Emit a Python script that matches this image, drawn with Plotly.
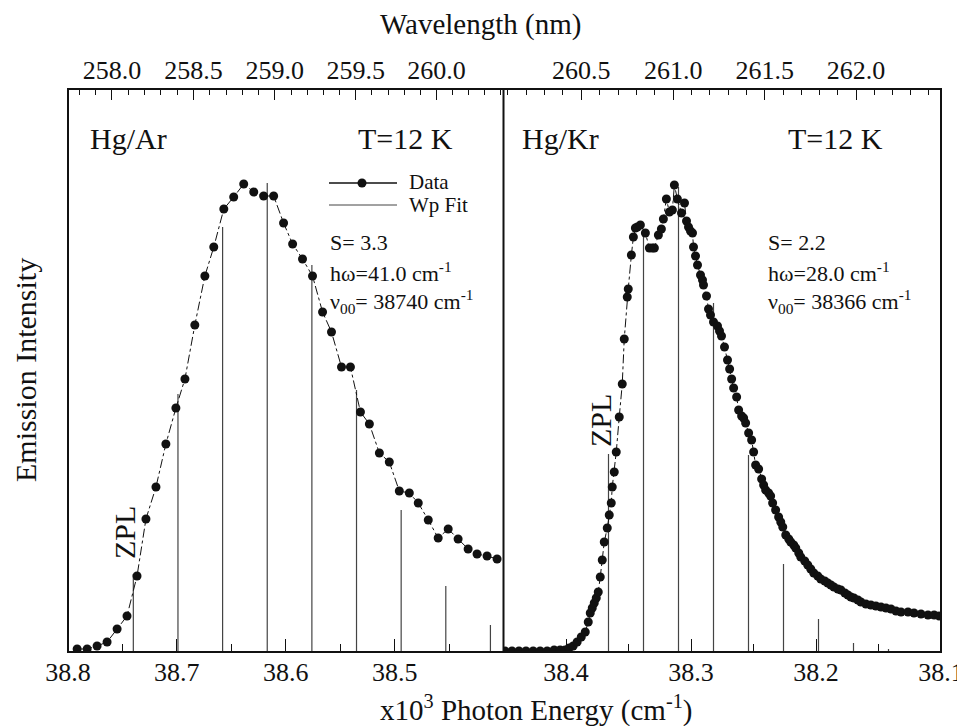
import plotly.graph_objects as go

# ---------------- data ----------------
# Hg/Ar emission (x10^3 cm^-1, arbitrary intensity)
left_energy = [38.7916, 38.7824, 38.7733, 38.7641, 38.7549, 38.7458, 38.7366, 38.7284,
               38.7192, 38.7101, 38.7009, 38.6926, 38.6835, 38.6743, 38.6661, 38.6569,
               38.6478, 38.6386, 38.6294, 38.6203, 38.6111, 38.6020, 38.5937, 38.5846,
               38.5754, 38.5662, 38.5580, 38.5488, 38.5406, 38.5314, 38.5232, 38.5140,
               38.5049, 38.4957, 38.4865, 38.4783, 38.4691, 38.4600, 38.4508, 38.4417,
               38.4325, 38.4243, 38.4151, 38.4059]
left_intensity = [3, 3, 6, 10, 23, 36, 76, 133, 165, 208, 244, 273, 327, 376, 405, 443,
                  455, 468, 460, 456, 456, 429, 408, 393, 376, 340, 320, 285, 285, 240,
                  228, 199, 190, 161, 159, 149, 132, 114, 123, 113, 103, 98, 96, 93]

# Hg/Kr emission
right_energy = [38.4488, 38.4432, 38.4376, 38.4320, 38.4263, 38.4207, 38.4151, 38.4095,
                38.4047, 38.4007, 38.3975, 38.3943, 38.3911, 38.3878, 38.3846, 38.3822,
                38.3806, 38.3790, 38.3774, 38.3758, 38.3742, 38.3726, 38.3710, 38.3694,
                38.3670, 38.3654, 38.3638, 38.3630, 38.3614, 38.3598, 38.3574, 38.3550,
                38.3534, 38.3510, 38.3502, 38.3477, 38.3461, 38.3445, 38.3429, 38.3405,
                38.3365, 38.3333, 38.3309, 38.3293, 38.3261, 38.3237, 38.3221, 38.3197,
                38.3173, 38.3149, 38.3133, 38.3109, 38.3076, 38.3052, 38.3036, 38.3020,
                38.3004, 38.2988, 38.2980, 38.2964, 38.2948, 38.2924, 38.2908, 38.2900,
                38.2876, 38.2860, 38.2844, 38.2820, 38.2788, 38.2772, 38.2756, 38.2732,
                38.2708, 38.2691, 38.2675, 38.2659, 38.2635, 38.2619, 38.2595, 38.2579,
                38.2563, 38.2539, 38.2515, 38.2499, 38.2483, 38.2459, 38.2435, 38.2419,
                38.2403, 38.2379, 38.2363, 38.2347, 38.2323, 38.2299, 38.2282, 38.2266,
                38.2242, 38.2218, 38.2202, 38.2178, 38.2162, 38.2138, 38.2122, 38.2090,
                38.2066, 38.2042, 38.2018, 38.1986, 38.1962, 38.1930, 38.1906, 38.1881,
                38.1857, 38.1825, 38.1801, 38.1769, 38.1745, 38.1721, 38.1697, 38.1665,
                38.1641, 38.1601, 38.1561, 38.1521, 38.1480, 38.1440, 38.1400, 38.1360,
                38.1320, 38.1264, 38.1216, 38.1160, 38.1104, 38.1055, 38.1015]
right_intensity = [1, 1, 1, 1, 1, 1, 1, 2, 2, 2, 4, 6, 10, 15, 20, 30,
                   39, 44, 49, 54, 60, 75, 92, 110, 124, 137, 149, 165, 180, 200, 235, 268,
                   313, 355, 363, 397, 415, 424, 425, 427, 419, 404, 404, 404, 417, 423,
                   433, 453, 440, 442, 467, 453, 439, 449, 431, 425, 421, 419, 405, 396,
                   387, 377, 372, 367, 356, 343, 337, 330, 326, 321, 316, 305, 292, 283,
                   273, 264, 255, 242, 236, 234, 229, 219, 212, 200, 187, 183, 173, 167,
                   162, 159, 156, 149, 142, 135, 130, 125, 117, 113, 110, 107, 104, 99,
                   95, 91, 87, 83, 79, 76, 73, 71, 69, 67, 65, 63, 62, 59, 57, 55, 54,
                   52, 50, 48, 47, 46, 45, 44, 43, 41, 40, 40, 39, 38, 37, 37, 36]

# Wp fit stick spectra
left_fit_energy = [38.740, 38.699, 38.658, 38.617, 38.576, 38.535, 38.494, 38.453, 38.412]
left_fit_height = [78, 258, 425, 469, 387, 262, 142, 66, 27]
right_fit_energy = [38.366, 38.338, 38.310, 38.282, 38.254, 38.226, 38.198, 38.170, 38.142]
right_fit_height = [198, 417, 465, 349, 197, 88, 33, 9, 3]

# tick labels
left_energy_ticks = [38.8, 38.7, 38.6, 38.5]
left_energy_minor = [38.75, 38.65, 38.55, 38.45]
right_energy_ticks = [38.4, 38.3, 38.2, 38.1]
right_energy_minor = [38.35, 38.25, 38.15]
left_wl_ticks = [258.0, 258.5, 259.0, 259.5, 260.0]
right_wl_ticks = [260.5, 261.0, 261.5, 262.0]
left_wl_minor = [round(257.8 + 0.1 * i, 1) for i in range(27)]
right_wl_minor = [round(260.1 + 0.1 * i, 1) for i in range(24)]

# ---------------- layout helpers ----------------
# target plot-area box in screen pixels (page body has an 8 px margin)
OFF = 8
W, H = 965 - OFF, 726 - OFF
L, R, T, B = 68, 941, 89, 652
SPLIT = 503.5
FONT = "Liberation Serif, Times New Roman, serif"
INK = "#111111"


def px_x(px):
    return (px - L) / (R - L)


def px_y(py):
    return (B - py) / (B - T)


def nm_to_k(wl):
    # wavelength (nm) -> photon energy in 10^3 cm^-1
    return 1e4 / wl


def sticks(energies, heights):
    xs, ys = [], []
    for e, h in zip(energies, heights):
        xs += [e, e, None]
        ys += [0, h, None]
    return xs, ys


fig = go.Figure()

data_style = dict(mode="lines+markers",
                  line=dict(color=INK, width=1, dash="dashdot"),
                  marker=dict(color=INK, size=9), showlegend=False)
stick_style = dict(mode="lines", line=dict(color="#444444", width=1.2), showlegend=False)

sx, sy = sticks(left_fit_energy, left_fit_height)
fig.add_trace(go.Scatter(x=sx, y=sy, xaxis="x", yaxis="y", **stick_style))
fig.add_trace(go.Scatter(x=left_energy, y=left_intensity, xaxis="x", yaxis="y", **data_style))

sx, sy = sticks(right_fit_energy, right_fit_height)
fig.add_trace(go.Scatter(x=sx, y=sy, xaxis="x2", yaxis="y", **stick_style))
fig.add_trace(go.Scatter(x=right_energy, y=right_intensity, xaxis="x2", yaxis="y", **data_style))

# empty traces so that the top (wavelength) axes exist
fig.add_trace(go.Scatter(x=[None], y=[None], xaxis="x3", yaxis="y", showlegend=False))
fig.add_trace(go.Scatter(x=[None], y=[None], xaxis="x4", yaxis="y", showlegend=False))

split = px_x(SPLIT)
tickfont = dict(family=FONT, size=26, color=INK)
common = dict(showgrid=False, zeroline=False, showline=False, ticks="inside",
              tickcolor=INK, tickwidth=1.3, tickfont=tickfont, tickmode="array",
              automargin=False, ticklabeloverflow="allow")

fig.update_layout(
    width=W, height=H,
    margin=dict(l=L - OFF, r=(W + OFF) - R, t=T - OFF, b=(H + OFF) - B, autoexpand=False),
    paper_bgcolor="white", plot_bgcolor="white",
    xaxis=dict(domain=[0, split], range=[38.8, 38.4], anchor="y",
               tickvals=left_energy_ticks, ticktext=[f"{v:.1f}" for v in left_energy_ticks],
               ticklen=13, ticklabelstandoff=2,
               minor=dict(tickmode="array", tickvals=left_energy_minor, ticks="inside",
                          ticklen=8, tickcolor=INK, tickwidth=1.2),
               **common),
    xaxis2=dict(domain=[split, 1], range=[38.45, 38.1], anchor="y",
                tickvals=right_energy_ticks, ticktext=[f"{v:.1f}" for v in right_energy_ticks],
                ticklen=13, ticklabelstandoff=2,
                minor=dict(tickmode="array", tickvals=right_energy_minor, ticks="inside",
                           ticklen=8, tickcolor=INK, tickwidth=1.2),
                **common),
    xaxis3=dict(overlaying="x", side="top", anchor="y", range=[38.8, 38.4],
                tickvals=[nm_to_k(w) for w in left_wl_ticks],
                ticktext=[f"{w:.1f}" for w in left_wl_ticks],
                ticklen=11, ticklabelstandoff=4,
                minor=dict(tickmode="array", tickvals=[nm_to_k(w) for w in left_wl_minor],
                           ticks="inside", ticklen=6, tickcolor=INK, tickwidth=1.2),
                **common),
    xaxis4=dict(overlaying="x2", side="top", anchor="y", range=[38.45, 38.1],
                tickvals=[nm_to_k(w) for w in right_wl_ticks],
                ticktext=[f"{w:.1f}" for w in right_wl_ticks],
                ticklen=11, ticklabelstandoff=4,
                minor=dict(tickmode="array", tickvals=[nm_to_k(w) for w in right_wl_minor],
                           ticks="inside", ticklen=6, tickcolor=INK, tickwidth=1.2),
                **common),
    yaxis=dict(range=[0, B - T], showticklabels=False, ticks="", showgrid=False,
               zeroline=False, showline=False, automargin=False),
)

# frame and divider
fig.add_shape(type="rect", xref="paper", yref="paper", x0=0, x1=1, y0=0, y1=1,
              line=dict(color=INK, width=2), layer="above")
fig.add_shape(type="line", xref="paper", yref="paper", x0=split, x1=split, y0=0, y1=1,
              line=dict(color=INK, width=2), layer="above")

# legend (drawn)
fig.add_shape(type="line", xref="paper", yref="paper", x0=px_x(329), x1=px_x(397),
              y0=px_y(183), y1=px_y(183), line=dict(color=INK, width=1.3))
fig.add_shape(type="circle", xref="paper", yref="paper", x0=px_x(357.5), x1=px_x(366.5),
              y0=px_y(187.5), y1=px_y(178.5), fillcolor=INK, line=dict(color=INK, width=0))
fig.add_shape(type="line", xref="paper", yref="paper", x0=px_x(329), x1=px_x(397),
              y0=px_y(205), y1=px_y(205), line=dict(color="#444444", width=1))


def note(text, px, py, size, anchor="center", angle=0):
    fig.add_annotation(text=text, x=px_x(px), y=px_y(py), xref="paper", yref="paper",
                       xanchor=anchor, yanchor="middle", showarrow=False, textangle=angle,
                       font=dict(family=FONT, size=size, color=INK))


note("Wavelength (nm)", 480, 24, 29)
note("x10<sup>3</sup> Photon Energy (cm<sup>-1</sup>)", 536, 708, 29)
note("Emission Intensity", 25, 370, 30, angle=-90)

note("Hg/Ar", 128, 138, 30)
note("T=12 K", 405, 138, 30)
note("Hg/Kr", 560, 138, 30)
note("T=12 K", 835, 138, 30)

note("ZPL", 124, 533, 30, angle=-90)
note("ZPL", 600, 421, 30, angle=-90)

note("Data", 407, 182, 21, anchor="left")
note("Wp Fit", 407, 205, 21, anchor="left")

note("S= 3.3", 328, 243, 22, anchor="left")
note("hω=41.0 cm<sup>-1</sup>", 328, 272, 22, anchor="left")
note("ν<sub>00</sub>= 38740 cm<sup>-1</sup>", 328, 301, 22, anchor="left")

note("S= 2.2", 766, 243, 22, anchor="left")
note("hω=28.0 cm<sup>-1</sup>", 766, 272, 22, anchor="left")
note("ν<sub>00</sub>= 38366 cm<sup>-1</sup>", 766, 301, 22, anchor="left")

fig.write_html("out.html")
